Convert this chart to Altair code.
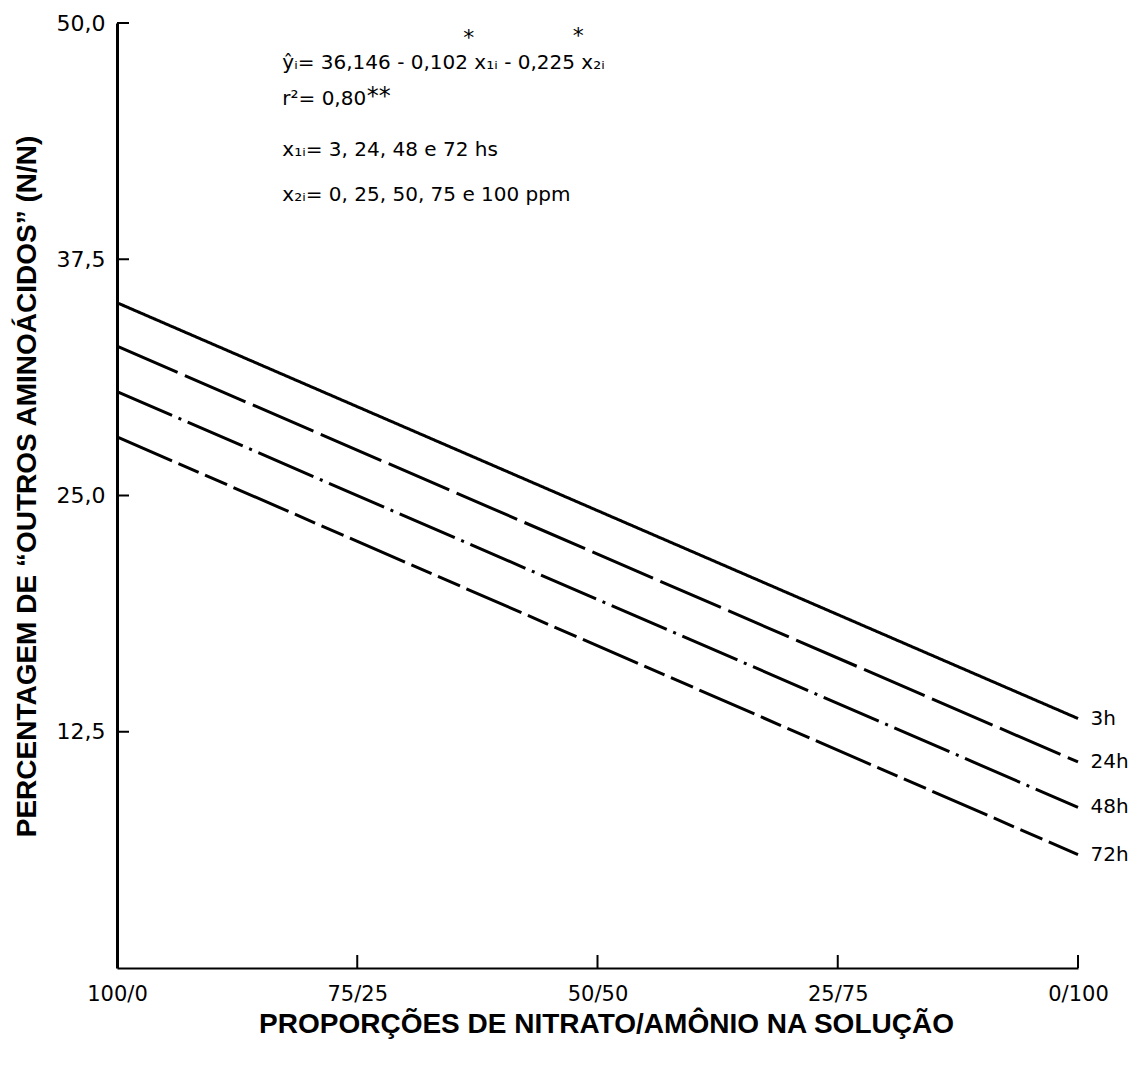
import altair as alt
import pandas as pd

# ---- data ----
series = ["3h", "24h", "48h", "72h"]
x_points = [0, 100]                      # 100/0 ... 0/100 proportion axis
y_start = [35.2, 32.9, 30.5, 28.1]       # value at 100/0
y_end = [13.2, 10.9, 8.5, 6.0]           # value at 0/100

x_tick_values = [0, 25, 50, 75, 100]
x_tick_labels = ["100/0", "75/25", "50/50", "25/75", "0/100"]
y_tick_values = [12.5, 25.0, 37.5, 50.0]

annot_text = [
    "ŷᵢ= 36,146 - 0,102 x₁ᵢ - 0,225 x₂ᵢ",
    "r²= 0,80",
    "x₁ᵢ= 3, 24, 48 e 72 hs",
    "x₂ᵢ= 0, 25, 50, 75 e 100 ppm",
]
annot_x = [17.2, 17.2, 17.2, 17.2]
annot_y = [47.9, 46.0, 43.3, 40.9]

star_text = ["*", "*", "**"]
star_x = [36.6, 48.0, 26.0]
star_y = [49.2, 49.3, 46.1]
star_align = ["center", "center", "left"]

label_x = [101.3, 101.3, 101.3, 101.3]

# ---- tables ----
rows = []
for s, a, b in zip(series, y_start, y_end):
    rows.append({"serie": s, "x": x_points[0], "y": a})
    rows.append({"serie": s, "x": x_points[1], "y": b})
lines_df = pd.DataFrame(rows)
labels_df = pd.DataFrame({"serie": series, "x": label_x, "y": y_end})
annot_df = pd.DataFrame({"t": annot_text, "x": annot_x, "y": annot_y})
star_df = pd.DataFrame({"t": star_text, "x": star_x, "y": star_y, "al": star_align})
ytick_df = pd.DataFrame({"y": y_tick_values})
xtick_df = pd.DataFrame({"x": x_tick_values[1:]})

label_expr = " : ".join(
    f"datum.value == {v} ? '{l}'" for v, l in zip(x_tick_values, x_tick_labels)
) + " : ''"

W, H = 961, 945

xscale = alt.Scale(domain=[0, 100], nice=False, zero=False)
yscale = alt.Scale(domain=[0, 50], nice=False)

x_enc = alt.X(
    "x:Q",
    scale=xscale,
    axis=alt.Axis(
        values=x_tick_values,
        labelExpr=label_expr,
        ticks=False,
        grid=False,
        domainColor="black",
        domainWidth=2,
        labelColor="black",
        labelFont="DejaVu Sans",
        labelFontSize=21,
        labelPadding=15,
        labelFlush=False,
        title="PROPORÇÕES DE NITRATO/AMÔNIO NA SOLUÇÃO",
        titleFont="Liberation Sans",
        titleFontSize=28,
        titleFontWeight="bold",
        titleColor="black",
        titleX=489,
        titleY=56,
        titleAlign="center",
        titleBaseline="middle",
    ),
)
y_enc = alt.Y(
    "y:Q",
    scale=yscale,
    axis=alt.Axis(
        values=y_tick_values,
        labelExpr="replace(format(datum.value, '.1f'), '.', ',')",
        ticks=False,
        grid=False,
        domainColor="black",
        domainWidth=3,
        labelColor="black",
        labelFont="DejaVu Sans",
        labelFontSize=22,
        labelPadding=12,
        title="PERCENTAGEM DE “OUTROS AMINOÁCIDOS” (N/N)",
        titleFont="Liberation Sans",
        titleFontSize=28,
        titleFontWeight="bold",
        titleColor="black",
        titleX=-90,
        titleY=463,
        titleAlign="center",
        titleBaseline="middle",
    ),
)

lines = alt.Chart(lines_df).mark_line(color="black", strokeWidth=3, clip=False).encode(
    x=x_enc,
    y=y_enc,
    strokeDash=alt.StrokeDash(
        "serie:N",
        scale=alt.Scale(
            domain=series,
            range=[[1, 0], [66, 8], [60, 7, 3, 7], [60, 7, 22, 7, 24, 7]],
        ),
        legend=None,
    ),
    detail="serie:N",
)

yticks = alt.Chart(ytick_df).mark_rule(color="black", strokeWidth=2).encode(
    y="y:Q", x=alt.value(0), x2=alt.value(12)
)
xticks = alt.Chart(xtick_df).mark_rule(color="black", strokeWidth=2).encode(
    x="x:Q", y=alt.value(H), y2=alt.value(H - 13)
)

labels = alt.Chart(labels_df).mark_text(
    align="left", baseline="middle", font="DejaVu Sans", fontSize=20, color="black"
).encode(x="x:Q", y="y:Q", text="serie:N")

annots = alt.Chart(annot_df).mark_text(
    align="left", baseline="middle", font="DejaVu Sans", fontSize=20, color="black"
).encode(x="x:Q", y="y:Q", text="t:N")

stars_c = alt.Chart(star_df).transform_filter("datum.al == 'center'").mark_text(
    align="center", baseline="middle", font="DejaVu Sans", fontSize=22, color="black"
).encode(x="x:Q", y="y:Q", text="t:N")
stars_l = alt.Chart(star_df).transform_filter("datum.al == 'left'").mark_text(
    align="left", baseline="middle", font="DejaVu Sans", fontSize=24, color="black"
).encode(x="x:Q", y="y:Q", text="t:N")

chart = (
    alt.layer(lines, yticks, xticks, labels, annots, stars_c, stars_l)
    .properties(
        width=W,
        height=H,
        padding={"left": 117, "top": 23, "right": 59, "bottom": 97},
        autosize=alt.AutoSizeParams(type="none"),
        background="white",
    )
    .configure_view(stroke=None)
)

chart.save("out.html", embed_options={"renderer": "svg", "actions": False})
